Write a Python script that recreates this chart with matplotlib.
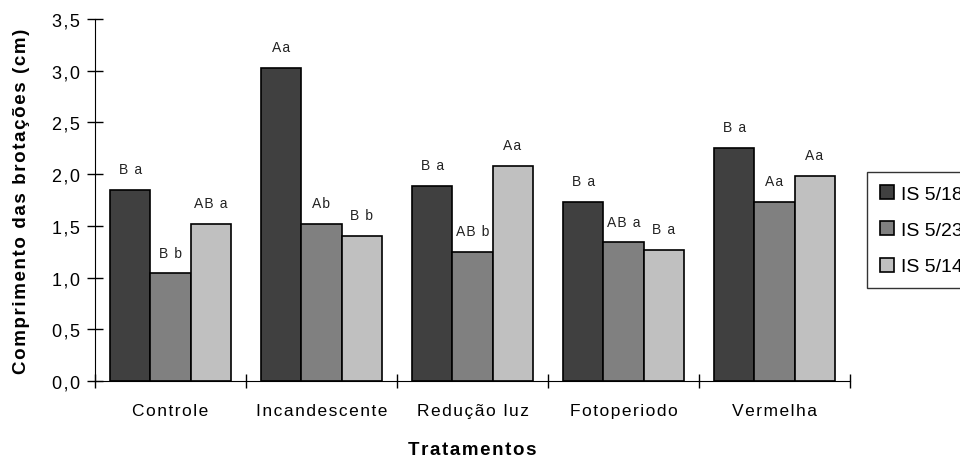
import numpy as np
import matplotlib
matplotlib.use("Agg")
import matplotlib.pyplot as plt

plt.rcParams['font.family'] = ['Liberation Sans', 'DejaVu Sans']

# comprimento medio das brotacoes por tratamento e por cultivar
tratamentos = ["Controle", "Incandescente", "Redução luz", "Fotoperiodo", "Vermelha"]
is_518 = [1.85, 3.03, 1.89, 1.73, 2.25]
is_523 = [1.04, 1.52, 1.25, 1.34, 1.73]
is_514 = [1.52, 1.40, 2.08, 1.27, 1.98]
letras_518 = ["B a", "Aa", "B a", "B a", "B a"]
letras_523 = ["B b", "Ab", "AB b", "AB a", "Aa"]
letras_514 = ["AB a", "B b", "Aa", "B a", "Aa"]
series = ["IS 5/18", "IS 5/23", "IS 5/14"]
cores = ["#404040", "#808080", "#c0c0c0"]


def spaced(s):
    # letras um pouco afastadas, como no grafico do Excel
    return "\u200a".join(s)


fig = plt.figure(figsize=(9.6, 4.6), dpi=100)
ax = fig.add_axes([95 / 960, 1 - 382 / 460, 755 / 960, 362 / 460])

x = np.arange(len(tratamentos))
w = 0.265
dados = [is_518, is_523, is_514]
letras = [letras_518, letras_523, letras_514]
for i in range(3):
    pos = x + (i - 1) * w
    barras = ax.bar(pos, dados[i], w, color=cores[i], edgecolor="black",
                    linewidth=1.2, label=series[i], zorder=2)
    for b, v, t in zip(barras, dados[i], letras[i]):
        ax.annotate(spaced(t), (b.get_x() + b.get_width() / 2, v), xytext=(0, 15),
                    textcoords="offset points", ha="center", va="center",
                    fontsize=10, color="#222222")

ax.set_xlim(-0.5, 4.5)
ax.set_ylim(0, 3.5)
yt = np.arange(0, 3.51, 0.5)
ax.set_yticks(yt)
ax.set_yticklabels([spaced(f"{v:.1f}".replace(".", ",")) for v in yt], fontsize=13)
ax.set_xticks(np.arange(-0.5, 4.6, 1))
ax.set_xticklabels([])
ax.set_xticks(x, minor=True)
ax.set_xticklabels([spaced(t) for t in tratamentos], minor=True, fontsize=12.5)
ax.tick_params(axis="x", which="minor", length=0, pad=16)
ax.tick_params(axis="y", which="major", direction="inout", length=12, width=1, pad=5)
ax.tick_params(axis="x", which="major", direction="inout", length=10, width=1)

for s in ["top", "right"]:
    ax.spines[s].set_visible(False)

ax.set_ylabel(spaced("Comprimento das brotações (cm)"), fontsize=13.5, fontweight="bold")
ax.yaxis.set_label_coords(-0.097, 0.5)
ax.set_xlabel(spaced("Tratamentos"), fontsize=13.5, fontweight="bold")
ax.xaxis.set_label_coords(0.5, -0.188)
ax.xaxis.label.set_va("center")
ax.yaxis.label.set_va("center")

leg = ax.legend(loc="upper left", bbox_to_anchor=(1.0225, 0.577), fontsize=14,
                frameon=True, fancybox=False, edgecolor="black", borderaxespad=0,
                handlelength=0.75, handleheight=0.75, handletextpad=0.35,
                labelspacing=0.95, borderpad=0.65)
leg.get_frame().set_linewidth(1)

fig.savefig("out.png", dpi=100)
